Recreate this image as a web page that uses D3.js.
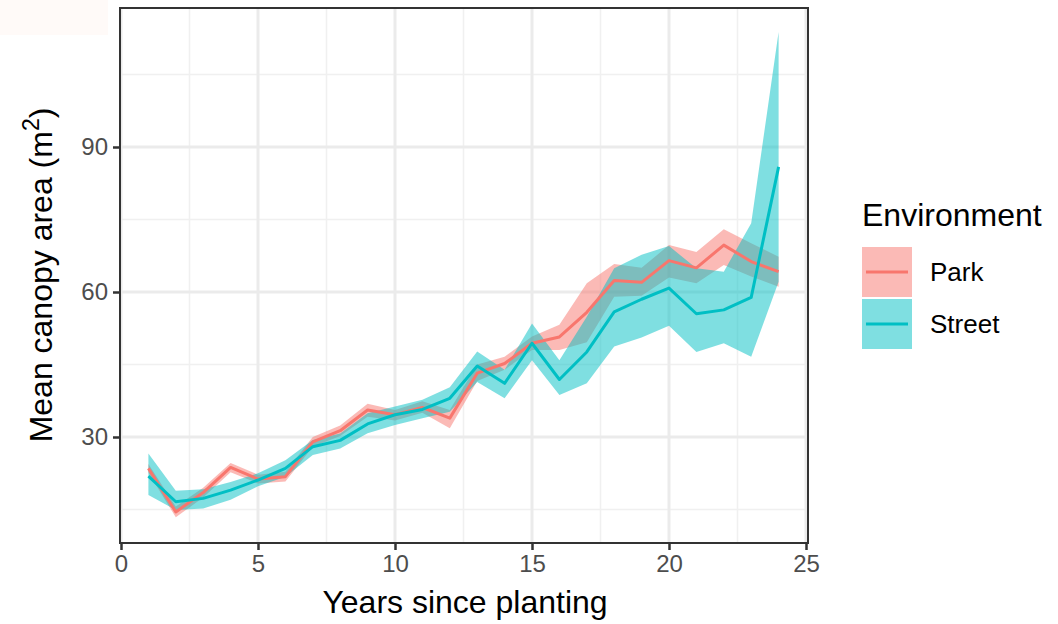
<!DOCTYPE html>
<html>
<head>
<meta charset="utf-8">
<script src="https://cdn.jsdelivr.net/npm/d3@7"></script>
<style>
  body { margin: 0; background: #fff; }
  svg { display: block; font-family: "Liberation Sans", Arial, sans-serif; }
</style>
</head>
<body>
<div id="chart"></div>
<script>
const years = d3.range(1, 25);

const parkMean = [23.5, 14.5, 18.5, 23.7, 21.3, 21.8, 29.0, 31.3, 35.6, 34.6, 36.1, 33.9,
                  43.2, 45.2, 49.4, 50.7, 55.8, 62.4, 62.0, 66.5, 65.0, 69.7, 66.3, 64.2];
const parkLo   = [22.6, 13.4, 17.5, 22.7, 20.4, 20.8, 28.0, 30.2, 34.2, 33.4, 35.0, 31.8,
                  41.6, 43.9, 48.0, 48.0, 49.6, 59.0, 59.2, 63.0, 61.8, 65.6, 63.2, 61.1];
const parkHi   = [24.4, 15.6, 19.5, 24.6, 22.2, 22.8, 30.0, 32.4, 36.9, 35.6, 37.4, 35.6,
                  45.0, 46.6, 50.8, 53.2, 61.8, 65.8, 65.0, 69.7, 68.3, 73.0, 70.1, 67.3];

const streetMean = [21.9, 16.6, 17.3, 19.0, 21.1, 23.5, 28.0, 29.3, 32.7, 34.6, 35.7, 38.0,
                    44.7, 41.1, 49.4, 41.9, 47.6, 55.9, 58.5, 60.8, 55.5, 56.3, 58.9, 85.9];
const streetLo   = [18.0, 14.9, 15.2, 17.0, 19.8, 21.8, 26.3, 27.6, 30.8, 32.5, 33.9, 35.2,
                    41.4, 38.0, 45.9, 38.7, 41.1, 48.7, 50.6, 53.0, 47.6, 49.4, 46.6, 62.1];
const streetHi   = [26.6, 18.9, 19.2, 20.7, 22.5, 25.2, 29.4, 30.7, 34.9, 36.3, 37.7, 40.3,
                    47.7, 43.9, 53.5, 45.9, 54.9, 64.9, 67.7, 69.5, 64.9, 64.2, 74.2, 113.8];

const environments = ["Park", "Street"];
const xTicks = [0, 5, 10, 15, 20, 25];
const xMinor = [2.5, 7.5, 12.5, 17.5, 22.5];
const yTicks = [30, 60, 90];
const yMinor = [15, 45, 75, 105];

const W = 1058, H = 624;
const panel = { left: 120, right: 808, top: 8, bottom: 543 };

const svg = d3.select("#chart").append("svg")
    .attr("width", W).attr("height", H);

// faint patch top-left
svg.append("rect").attr("x", 0).attr("y", 0).attr("width", 108).attr("height", 35)
    .attr("fill", "#fffaf8");

const x = d3.scaleLinear().domain([0, 25]).range([121, 806]);
const y = d3.scaleLinear().domain([30, 90]).range([437, 147]);

const series = [
  { name: "Park", color: "#F8766D", mean: parkMean, lo: parkLo, hi: parkHi },
  { name: "Street", color: "#00BFC4", mean: streetMean, lo: streetLo, hi: streetHi }
];

// grid
const grid = svg.append("g");
grid.selectAll(".xminor").data(xMinor).enter().append("line")
    .attr("x1", d => x(d)).attr("x2", d => x(d))
    .attr("y1", panel.top).attr("y2", panel.bottom)
    .attr("stroke", "#f0f0f0").attr("stroke-width", 1.5);
grid.selectAll(".yminor").data(yMinor).enter().append("line")
    .attr("x1", panel.left).attr("x2", panel.right)
    .attr("y1", d => y(d)).attr("y2", d => y(d))
    .attr("stroke", "#f0f0f0").attr("stroke-width", 1.5);
grid.selectAll(".xmajor").data(xTicks).enter().append("line")
    .attr("x1", d => x(d)).attr("x2", d => x(d))
    .attr("y1", panel.top).attr("y2", panel.bottom)
    .attr("stroke", "#ebebeb").attr("stroke-width", 3);
grid.selectAll(".ymajor").data(yTicks).enter().append("line")
    .attr("x1", panel.left).attr("x2", panel.right)
    .attr("y1", d => y(d)).attr("y2", d => y(d))
    .attr("stroke", "#ebebeb").attr("stroke-width", 3);

// ribbons
const area = d3.area()
    .x((d, i) => x(years[i]))
    .y0(d => y(d[0]))
    .y1(d => y(d[1]));

svg.append("g").selectAll("path").data(series).enter().append("path")
    .attr("d", s => area(s.lo.map((v, i) => [v, s.hi[i]])))
    .attr("fill", s => s.color)
    .attr("fill-opacity", 0.5);

// lines
const line = d3.line()
    .x((d, i) => x(years[i]))
    .y(d => y(d));

svg.append("g").selectAll("path").data(series).enter().append("path")
    .attr("d", s => line(s.mean))
    .attr("fill", "none")
    .attr("stroke", s => s.color)
    .attr("stroke-width", 3)
    .attr("stroke-linejoin", "round");

// panel border
svg.append("rect")
    .attr("x", panel.left).attr("y", panel.top)
    .attr("width", panel.right - panel.left).attr("height", panel.bottom - panel.top)
    .attr("fill", "none").attr("stroke", "#333").attr("stroke-width", 2);

// axes
const xAxis = svg.append("g")
    .attr("transform", `translate(0,${panel.bottom})`)
    .call(d3.axisBottom(x).tickValues(xTicks).tickSize(7).tickPadding(5));
const yAxis = svg.append("g")
    .attr("transform", `translate(${panel.left},0)`)
    .call(d3.axisLeft(y).tickValues(yTicks).tickSize(7).tickPadding(5));

[xAxis, yAxis].forEach(a => {
  a.select(".domain").remove();
  a.selectAll(".tick line").attr("stroke", "#333").attr("stroke-width", 2.5);
  a.selectAll(".tick text").attr("fill", "#4d4d4d")
      .style("font-size", "24px").style("font-family", "Liberation Sans, Arial, sans-serif");
});

// axis titles
svg.append("text")
    .attr("x", 465).attr("y", 613)
    .attr("text-anchor", "middle")
    .style("font-size", "32px")
    .text("Years since planting");

const yTitle = svg.append("text")
    .attr("transform", "translate(52,275) rotate(-90)")
    .attr("text-anchor", "middle")
    .style("font-size", "32px");
yTitle.append("tspan").text("Mean canopy area (m");
yTitle.append("tspan").attr("dy", -13).style("font-size", "23px").text("2");
yTitle.append("tspan").attr("dy", 13).text(")");

// legend
const legend = svg.append("g").attr("transform", "translate(862,0)");
legend.append("text")
    .attr("x", 0).attr("y", 226)
    .style("font-size", "32px")
    .text("Environment");

const keys = legend.selectAll(".key").data(series).enter().append("g")
    .attr("transform", (d, i) => `translate(0,${247 + i * 52})`);
keys.append("rect")
    .attr("width", 50).attr("height", 50)
    .attr("fill", d => d.color).attr("fill-opacity", 0.5);
keys.append("line")
    .attr("x1", 4).attr("x2", 46).attr("y1", 25).attr("y2", 25)
    .attr("stroke", d => d.color).attr("stroke-width", 3);
keys.append("text")
    .attr("x", 68).attr("y", 25).attr("dy", "0.36em")
    .style("font-size", "26px")
    .text(d => d.name);
</script>
</body>
</html>
